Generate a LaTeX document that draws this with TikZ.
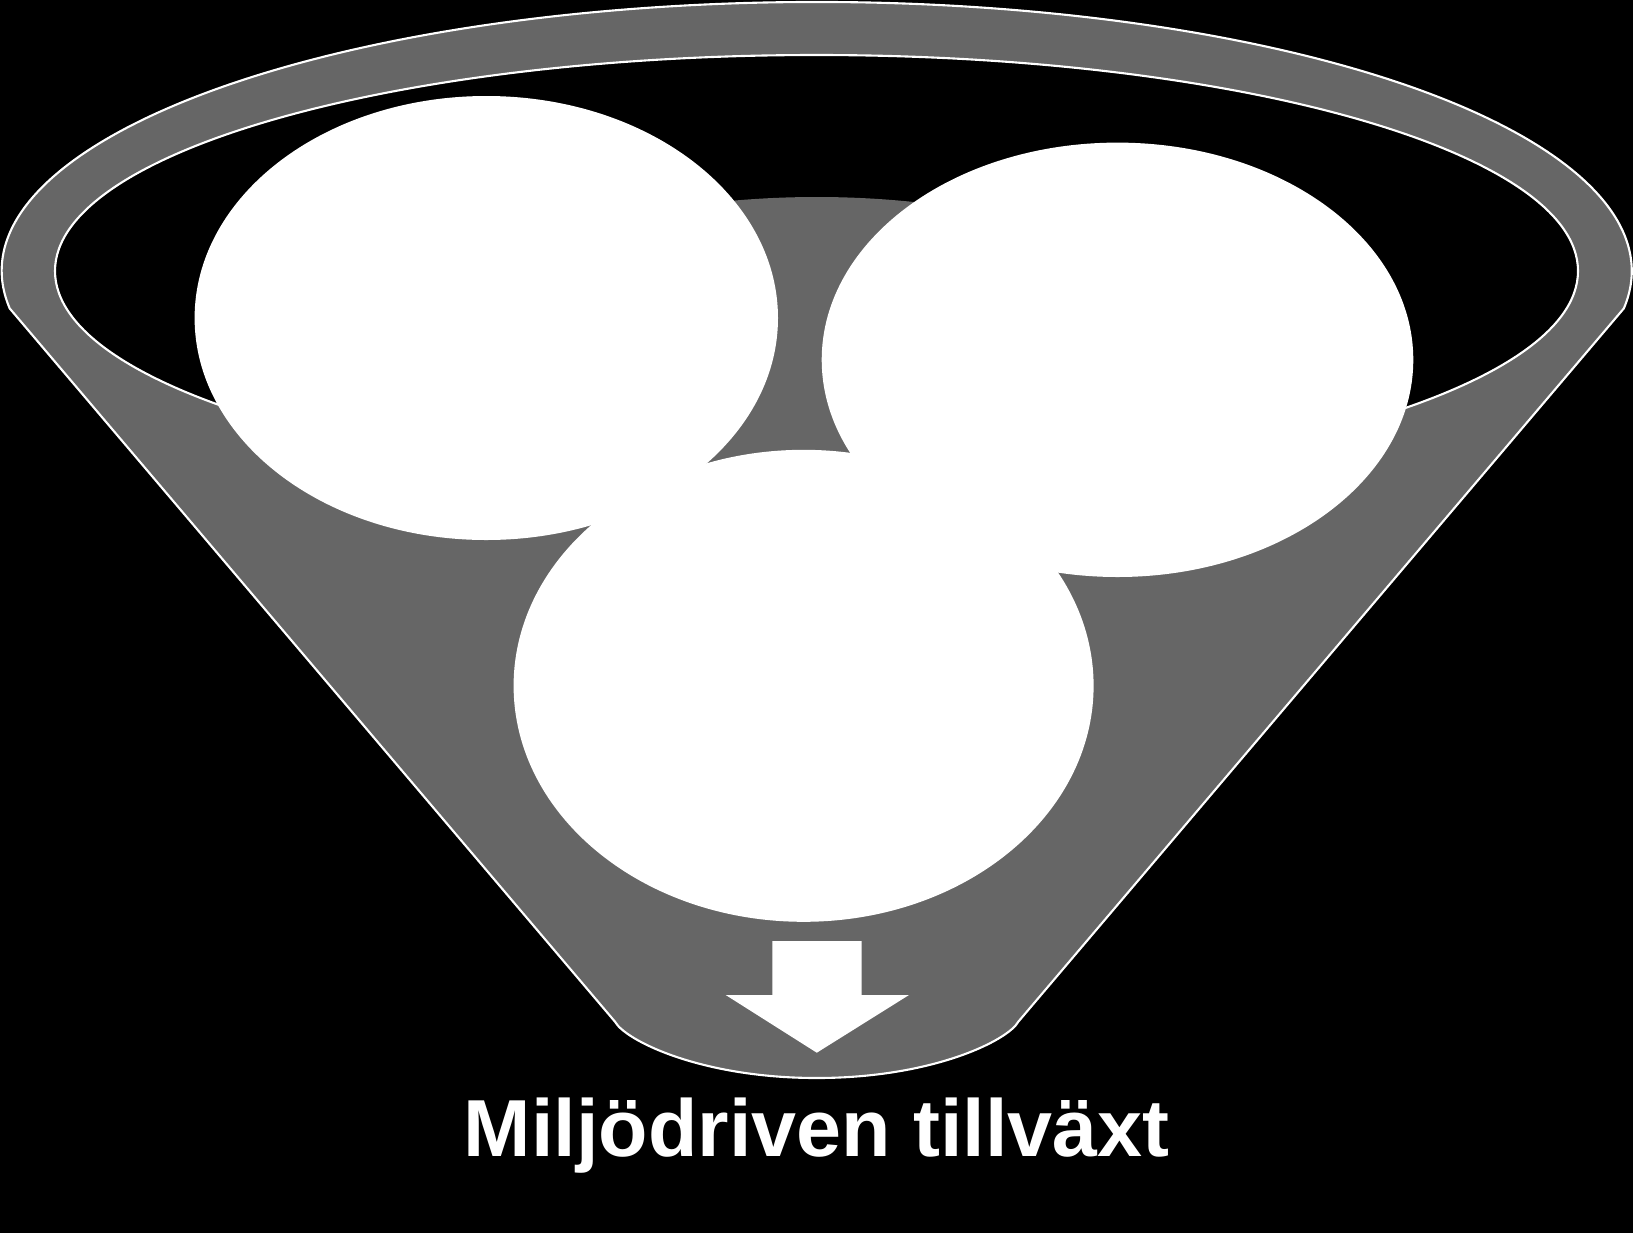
\documentclass[tikz,border=0pt]{standalone}
\usepackage{fontspec}
\setmainfont{Liberation Sans}
\usepackage{tikz}
\definecolor{funnelgray}{HTML}{666666}
\tikzset{rimline/.style={draw=white, line width=0.6pt},
  funnelbody/.style={fill=funnelgray, rimline},
  blob/.style={fill=white},
  bottomlabel/.style={text=white, font=\fontsize{23}{28}\selectfont\bfseries, inner sep=0pt, anchor=base}
}

\begin{document}
\begin{tikzpicture}[x=0.01cm, y=-0.01cm]
      \useasboundingbox (0,0) rectangle (1633,1233);
      \fill[black] (0,0) rectangle (1633,1233);
      \filldraw[funnelbody] (9.7,308.4) arc[start angle=172, end angle=368, x radius=815, y radius=269]
        -- (1018.3,1021.7) .. controls (1008.4,1040) and (933.4,1078) .. (816.7,1078)
        .. controls (700,1078) and (625,1040) .. (615,1021.7) -- cycle;
      \fill[black] (816.5,271) ellipse[x radius=761.5, y radius=216];
      \begin{scope}
        \clip (816.5,271) ellipse[x radius=761.5, y radius=216];
        \fill[funnelgray] (816.7,530) ellipse[x radius=560, y radius=333];
      \end{scope}
      \draw[rimline] (816.5,271) ellipse[x radius=761.5, y radius=216];
      \fill[blob] (486.3,318) ellipse[x radius=291.7, y radius=222];
      \fill[blob] (1117.5,359.8) ellipse[x radius=295.8, y radius=217.2];
      \fill[blob] (803.6,685.8) ellipse[x radius=290, y radius=236];
      \fill[blob] (772.3,941) -- (861.7,941) -- (861.7,995) -- (909,995) -- (816.8,1052.7)
        -- (725.7,995) -- (772.3,995) -- cycle;
    \node[bottomlabel] (growth) at (816.7,1156.7) {Miljödriven tillväxt};
    \end{tikzpicture}
\end{document}
